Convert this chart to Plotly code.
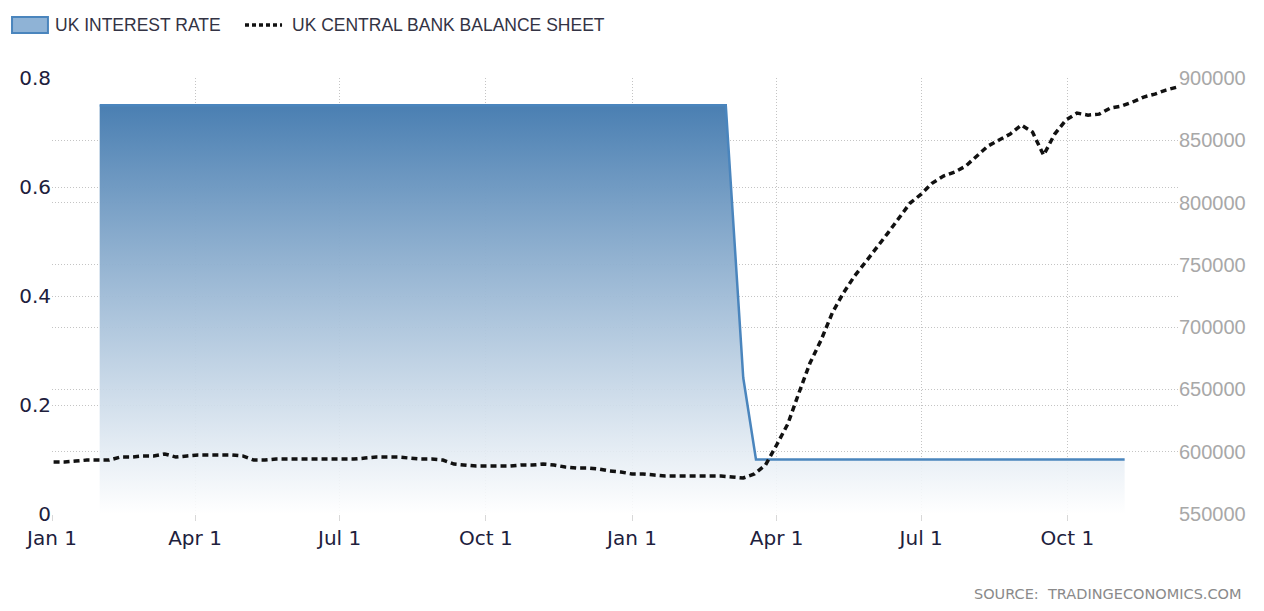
"""UK interest rate vs UK central bank balance sheet chart."""

from __future__ import annotations

import pandas as pd
import plotly.graph_objects as go

RATE_DATES = ["2019-01-31", "2020-02-29", "2020-03-11", "2020-03-19", "2020-11-06"]
RATE_VALUES = [0.75, 0.75, 0.25, 0.1, 0.1]

BALANCE_START = "2019-01-02"
BALANCE_VALUES = [
    591700, 591700, 592500, 593300, 593300, 593300, 595700, 595700, 596600, 596600,
    598200, 595700, 596600, 597400, 597400, 597400, 597400, 596600, 593300, 593300,
    594100, 594100, 594100, 594100, 594100, 594100, 594100, 594100, 594900, 595700,
    595700, 595700, 594900, 594100, 594100, 593300, 590100, 589300, 588500, 588500,
    588500, 588500, 589300, 589300, 590100, 589300, 587700, 586900, 586900, 586100,
    584500, 583700, 582100, 582100, 581300, 580500, 580500, 580500, 580500, 580500,
    580500, 579700, 578900, 582100, 589300, 605400, 622200, 647100, 671200, 689700,
    711300, 727400, 741000, 752300, 763500, 775500, 787600, 799600, 806800, 815700,
    821300, 824500, 829300, 837300, 845400, 850200, 855000, 862200, 856600, 838100,
    855000, 866200, 871800, 870200, 871000, 875900, 877500, 880700, 884700, 887100,
    890300, 892700,
]

LEFT_TICKS = [0, 0.2, 0.4, 0.6, 0.8]
RIGHT_TICKS = [550000, 600000, 650000, 700000, 750000, 800000, 850000, 900000]

GRID = "#c4c4c4"
LABEL_DARK = "#20203c"
RATE_BLUE = "#4a85bd"


def build_figure() -> go.Figure:
    balance_dates = pd.date_range(BALANCE_START, periods=len(BALANCE_VALUES), freq="7D")
    figure = go.Figure()
    figure.add_trace(go.Scatter(
        x=RATE_DATES, y=RATE_VALUES, name="UK INTEREST RATE", mode="lines", fill="tozeroy",
        line=dict(color=RATE_BLUE, width=2.5),
        fillgradient=dict(type="vertical", start=0, stop=0.75, colorscale=[[0, "rgba(255,255,255,0.9)"], [1, "#4a7fb2"]]),
    ))
    figure.add_trace(go.Scatter(
        x=balance_dates, y=BALANCE_VALUES, name="UK CENTRAL BANK BALANCE SHEET", mode="lines", yaxis="y2",
        line=dict(color="#111111", width=3.5, dash="6px,4px"),
    ))
    # hand-drawn legend (paper coords, plot area spans x 52..1178, y 78..514 px)
    legend_font = dict(family="Liberation Sans", size=17.5, color="#333344")
    figure.add_shape(type="rect", xref="paper", yref="paper", x0=-0.0355, x1=-0.0036, y0=1.103, y1=1.140,
                     line=dict(color=RATE_BLUE, width=2), fillcolor="#8fb3d6")
    figure.add_shape(type="line", xref="paper", yref="paper", x0=0.1714, x1=0.2043, y0=1.1216, y1=1.1216,
                     line=dict(color="#111111", width=3.5, dash="4px,3px"))
    figure.update_layout(
        width=1256, height=603, paper_bgcolor="white", plot_bgcolor="white",
        margin=dict(l=44, r=86, t=70, b=97),
        font=dict(family="DejaVu Sans", color=LABEL_DARK),
        showlegend=False,
        xaxis=dict(type="date", range=["2019-01-01", "2020-12-09 14:00"], tick0="2019-01-01", dtick="M3", tickformat="%b %-d",
                   showgrid=True, gridcolor=GRID, griddash="1px,2px", zeroline=False, showline=False,
                   ticks="outside", ticklen=6, tickcolor="#d8d8d8", tickfont=dict(size=20, color=LABEL_DARK)),
        yaxis=dict(range=[0, 0.8], tickvals=LEFT_TICKS, ticktext=["0", "0.2", "0.4", "0.6", "0.8"],
                   showgrid=True, gridcolor=GRID, griddash="1px,2px", zeroline=False, showline=False,
                   tickfont=dict(size=20, color=LABEL_DARK)),
        yaxis2=dict(range=[550000, 900000], tickvals=RIGHT_TICKS, tickformat="d", overlaying="y", side="right",
                    showgrid=True, gridcolor=GRID, griddash="1px,2px", zeroline=False, showline=False,
                    tickfont=dict(family="Liberation Sans", size=20, color="#a8a8a8")),
        annotations=[
            dict(text="UK INTEREST RATE", xref="paper", yref="paper", x=0.0009, y=1.1216, xanchor="left", yanchor="middle",
                 showarrow=False, font=legend_font),
            dict(text="UK CENTRAL BANK BALANCE SHEET", xref="paper", yref="paper", x=0.2114, y=1.1216, xanchor="left",
                 yanchor="middle", showarrow=False, font=legend_font),
            dict(text="SOURCE:  TRADINGECONOMICS.COM", xref="paper", yref="paper", x=1.0585, y=-0.16,
                 xanchor="right", yanchor="top", showarrow=False, font=dict(family="DejaVu Sans", size=14.5, color="#8a8a8a")),
        ],
    )
    return figure


fig = build_figure()
fig.write_html("out.html")
